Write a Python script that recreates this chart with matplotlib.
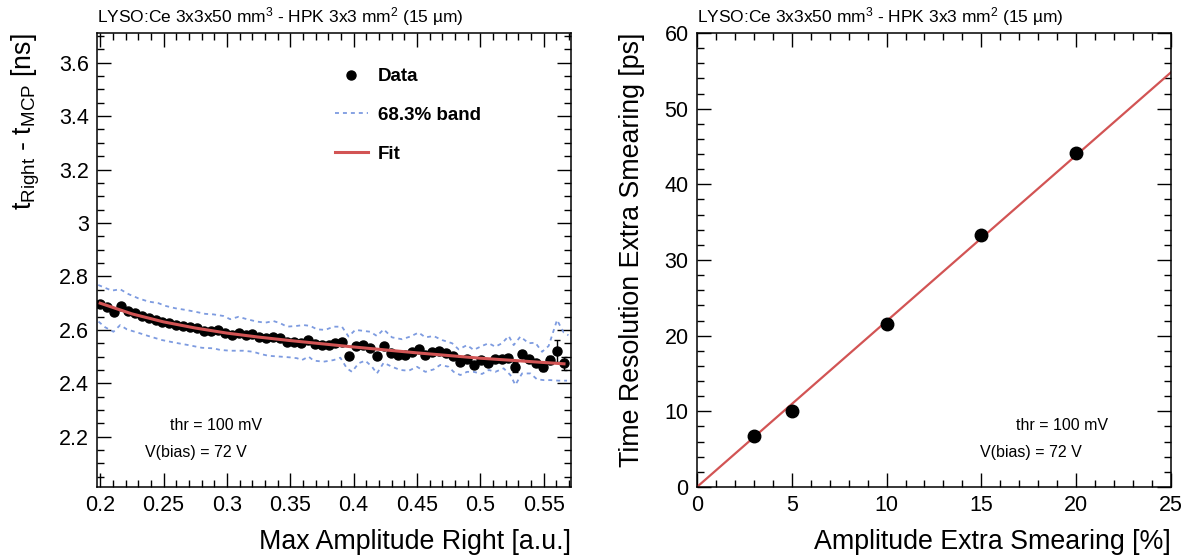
import numpy as np
import matplotlib
matplotlib.use('Agg')
import matplotlib.pyplot as plt
from matplotlib.lines import Line2D
from matplotlib.ticker import MultipleLocator

plt.rcParams['font.family'] = ['Liberation Sans', 'DejaVu Sans']
plt.rcParams['mathtext.fontset'] = 'custom'
plt.rcParams['mathtext.rm'] = 'Liberation Sans'
plt.rcParams['mathtext.it'] = 'Liberation Sans:italic'

# left panel: time walk vs amplitude
amp = [0.2000, 0.2055, 0.2109, 0.2164, 0.2218, 0.2273, 0.2328, 0.2382, 0.2437, 0.2491,
       0.2546, 0.2601, 0.2655, 0.2710, 0.2764, 0.2819, 0.2874, 0.2928, 0.2983, 0.3037,
       0.3092, 0.3147, 0.3201, 0.3256, 0.3310, 0.3365, 0.3420, 0.3474, 0.3529, 0.3583,
       0.3638, 0.3693, 0.3747, 0.3802, 0.3856, 0.3911, 0.3966, 0.4020, 0.4075, 0.4129,
       0.4184, 0.4239, 0.4293, 0.4348, 0.4402, 0.4457, 0.4512, 0.4566, 0.4621, 0.4675,
       0.4730, 0.4785, 0.4839, 0.4894, 0.4948, 0.5003, 0.5058, 0.5112, 0.5167, 0.5221,
       0.5276, 0.5331, 0.5385, 0.5440, 0.5494, 0.5549, 0.5604, 0.5658]
dt = [2.696, 2.685, 2.668, 2.691, 2.672, 2.662, 2.652, 2.643, 2.637, 2.628,
      2.625, 2.618, 2.615, 2.610, 2.606, 2.597, 2.596, 2.600, 2.590, 2.581,
      2.590, 2.581, 2.585, 2.572, 2.568, 2.575, 2.568, 2.556, 2.553, 2.552,
      2.562, 2.547, 2.543, 2.543, 2.550, 2.553, 2.503, 2.540, 2.545, 2.531,
      2.503, 2.541, 2.515, 2.506, 2.506, 2.517, 2.530, 2.506, 2.518, 2.522,
      2.512, 2.503, 2.481, 2.490, 2.469, 2.487, 2.477, 2.491, 2.491, 2.496,
      2.462, 2.510, 2.490, 2.475, 2.462, 2.487, 2.521, 2.475]
dt_err = [0.003] * 40 + [0.004] * 10 + [0.006] * 8 + \
         [0.008, 0.010, 0.018, 0.010, 0.012, 0.012, 0.015, 0.014, 0.040, 0.025]

band_up_x = [0.1985, 0.2092, 0.2158, 0.2223, 0.2302, 0.2381, 0.2460, 0.2513, 0.2592, 0.2671,
             0.2750, 0.2829, 0.2894, 0.2973, 0.3026, 0.3092, 0.3158, 0.3237, 0.3303, 0.3368,
             0.3421, 0.3474, 0.3553, 0.3605, 0.3658, 0.3711, 0.3776, 0.3842, 0.3908, 0.3960,
             0.4013, 0.4066, 0.4132, 0.4184, 0.4237, 0.4303, 0.4382, 0.4447, 0.4513, 0.4566,
             0.4631, 0.4698, 0.4777, 0.4829, 0.4895, 0.4947, 0.5013, 0.5066, 0.5118, 0.5171,
             0.5224, 0.5263, 0.5316, 0.5381, 0.5434, 0.5487, 0.5539, 0.5605, 0.5658, 0.5695]
band_up = [2.768, 2.747, 2.752, 2.734, 2.718, 2.706, 2.700, 2.690, 2.681, 2.675,
           2.668, 2.660, 2.658, 2.652, 2.640, 2.649, 2.640, 2.631, 2.627, 2.633,
           2.625, 2.612, 2.615, 2.618, 2.615, 2.602, 2.600, 2.612, 2.612, 2.575,
           2.600, 2.597, 2.593, 2.577, 2.602, 2.572, 2.565, 2.575, 2.590, 2.572,
           2.577, 2.562, 2.550, 2.527, 2.543, 2.525, 2.540, 2.550, 2.537, 2.550,
           2.577, 2.543, 2.575, 2.550, 2.552, 2.518, 2.540, 2.637, 2.590, 2.580]
band_lo_x = [0.1987, 0.2039, 0.2105, 0.2158, 0.2211, 0.2302, 0.2381, 0.2487, 0.2592, 0.2697,
             0.2803, 0.2894, 0.2947, 0.3026, 0.3131, 0.3210, 0.3263, 0.3329, 0.3421, 0.3500,
             0.3553, 0.3592, 0.3645, 0.3684, 0.3763, 0.3842, 0.3895, 0.3947, 0.3987, 0.4039,
             0.4092, 0.4145, 0.4184, 0.4237, 0.4303, 0.4368, 0.4434, 0.4500, 0.4566, 0.4631,
             0.4684, 0.4750, 0.4789, 0.4842, 0.4895, 0.4947, 0.5013, 0.5066, 0.5118, 0.5184,
             0.5237, 0.5276, 0.5329, 0.5395, 0.5447, 0.5500, 0.5553, 0.5618, 0.5684]
band_lo = [2.631, 2.610, 2.593, 2.618, 2.602, 2.589, 2.577, 2.562, 2.552, 2.543,
           2.533, 2.531, 2.525, 2.522, 2.522, 2.518, 2.510, 2.503, 2.500, 2.497,
           2.494, 2.487, 2.500, 2.485, 2.481, 2.487, 2.496, 2.456, 2.443, 2.475,
           2.485, 2.462, 2.437, 2.477, 2.462, 2.450, 2.447, 2.462, 2.443, 2.452,
           2.469, 2.462, 2.443, 2.431, 2.443, 2.443, 2.435, 2.450, 2.443, 2.456,
           2.431, 2.394, 2.437, 2.437, 2.415, 2.412, 2.412, 2.410, 2.410]

fit_x = [0.2, 0.225, 0.25, 0.275, 0.3, 0.325, 0.35, 0.375, 0.4, 0.425,
         0.45, 0.475, 0.5, 0.525, 0.55, 0.566]
fit_y = [2.700, 2.660, 2.630, 2.607, 2.588, 2.573, 2.560, 2.548, 2.536, 2.525,
         2.514, 2.504, 2.494, 2.486, 2.478, 2.473]

# right panel: time resolution vs amplitude smearing
smear = [3, 5, 10, 15, 20]
tres = [6.8, 10.0, 21.5, 33.3, 44.2]
line_x = [0.0, 25.0]
line_y = [0.0, 54.8]

title = 'LYSO:Ce 3x3x50 mm$^{3}$ - HPK 3x3 mm$^{2}$ (15 µm)'
red = '#d25454'
blue = '#7d9be0'

fig = plt.figure(figsize=(11.93, 5.56), dpi=100)
ax1 = fig.add_axes([0.0813, 0.1241, 0.3973, 0.8165])
ax2 = fig.add_axes([0.5842, 0.1241, 0.3973, 0.8165])

ax1.plot(band_up_x, band_up, color=blue, lw=1.3, ls=(0, (2.2, 2.2)))
ax1.plot(band_lo_x, band_lo, color=blue, lw=1.3, ls=(0, (2.2, 2.2)))
ax1.plot(fit_x, fit_y, color=red, lw=2.2, zorder=4)
ax1.errorbar(amp, dt, yerr=dt_err, fmt='o', color='black', ms=6.5, elinewidth=1,
             capsize=2, zorder=3)
ax1.set_xlim(0.1975, 0.5715)
ax1.set_ylim(2.012, 3.711)
ax1.xaxis.set_major_locator(MultipleLocator(0.05))
ax1.xaxis.set_minor_locator(MultipleLocator(0.01))
ax1.yaxis.set_major_locator(MultipleLocator(0.2))
ax1.yaxis.set_minor_locator(MultipleLocator(0.05))
ax1.set_xticks([0.2, 0.25, 0.3, 0.35, 0.4, 0.45, 0.5, 0.55])
ax1.set_xticklabels(['0.2', '0.25', '0.3', '0.35', '0.4', '0.45', '0.5', '0.55'])
ax1.set_yticks([2.2, 2.4, 2.6, 2.8, 3.0, 3.2, 3.4, 3.6])
ax1.set_yticklabels(['2.2', '2.4', '2.6', '2.8', '3', '3.2', '3.4', '3.6'])
ax1.set_xlabel('Max Amplitude Right [a.u.]', loc='right', fontsize=19.3, labelpad=9)
ax1.set_ylabel(r't$_{\mathrm{Right}}$ - t$_{\mathrm{MCP}}$ [ns]', loc='top', fontsize=19.3,
               labelpad=12)
ax1.text(0.0, 1.012, title, transform=ax1.transAxes, fontsize=12.5, va='bottom')
ax1.text(0.154, 0.135, 'thr = 100 mV', transform=ax1.transAxes, fontsize=11.5, va='center')
ax1.text(0.101, 0.075, 'V(bias) = 72 V', transform=ax1.transAxes, fontsize=11.5, va='center')

handles = [Line2D([], [], color='black', marker='o', ls='none', ms=6.5),
           Line2D([], [], color=blue, lw=1.3, ls=(0, (2.2, 2.2))),
           Line2D([], [], color=red, lw=2.2)]
ax1.legend(handles, ['Data', '68.3% band', 'Fit'], loc='upper left',
           bbox_to_anchor=(0.502, 0.923), frameon=False, borderpad=0, borderaxespad=0,
           handlelength=1.76, handletextpad=0.53, labelspacing=1.16,
           prop={'weight': 'bold', 'size': 13.5})

ax2.plot(line_x, line_y, color=red, lw=1.6, zorder=2)
ax2.plot(smear, tres, 'o', color='black', ms=9, zorder=3)
ax2.set_xlim(0, 25)
ax2.set_ylim(0, 60)
ax2.xaxis.set_major_locator(MultipleLocator(5))
ax2.xaxis.set_minor_locator(MultipleLocator(1))
ax2.yaxis.set_major_locator(MultipleLocator(10))
ax2.yaxis.set_minor_locator(MultipleLocator(2))
ax2.set_xlabel('Amplitude Extra Smearing [%]', loc='right', fontsize=19.3, labelpad=9)
ax2.set_ylabel('Time Resolution Extra Smearing [ps]', loc='top', fontsize=19.3, labelpad=14)
ax2.text(0.0, 1.012, title, transform=ax2.transAxes, fontsize=12.5, va='bottom')
ax2.text(0.673, 0.135, 'thr = 100 mV', transform=ax2.transAxes, fontsize=11.5, va='center')
ax2.text(0.597, 0.075, 'V(bias) = 72 V', transform=ax2.transAxes, fontsize=11.5, va='center')

for ax in (ax1, ax2):
    ax.tick_params(which='both', direction='in', top=True, right=True, labelsize=15.5, pad=6)
    ax.tick_params(which='major', length=10, width=1)
    ax.tick_params(which='minor', length=5, width=1)
    for s in ax.spines.values():
        s.set_linewidth(1.1)

fig.savefig('out.png', dpi=100)
